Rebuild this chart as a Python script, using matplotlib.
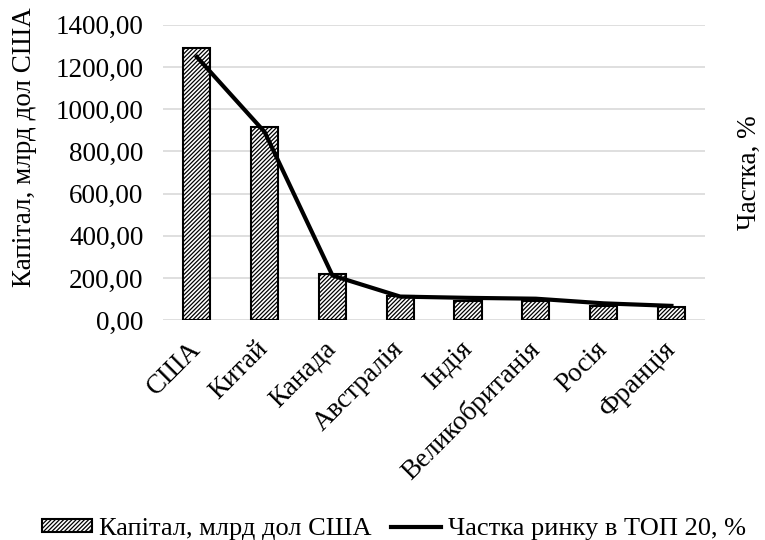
import matplotlib.pyplot as plt
import numpy as np

plt.rcParams['font.family'] = ['Liberation Serif', 'DejaVu Serif']
plt.rcParams['hatch.linewidth'] = 0.9

countries = ['США', 'Китай', 'Канада', 'Австралія', 'Індія',
             'Великобританія', 'Росія', 'Франція']
capital = [1292, 917, 219, 114, 92, 92, 68, 63]
share = [31.2, 22.3, 5.3, 2.8, 2.65, 2.55, 2.0, 1.7]

x = np.arange(len(countries))
fs = 19.5

fig = plt.figure(figsize=(7.65, 5.4), dpi=100)
ax = fig.add_axes([0.213, 0.407, 0.709, 0.547])

ax.bar(x, capital, 0.4, color='white', edgecolor='black', linewidth=1.5,
       hatch='////////', label='Капітал, млрд дол США', zorder=2)

ax.set_xlim(-0.5, len(countries) - 0.5)
ax.set_ylim(0, 1400)
ax.set_yticks(np.arange(0, 1401, 200))
ax.set_yticklabels([f'{v:.2f}'.replace('.', ',') for v in np.arange(0, 1401, 200)])
ax.yaxis.grid(True, color='#d9d9d9', linewidth=1.2, zorder=0)
ax.set_axisbelow(True)
for s in ax.spines.values():
    s.set_visible(False)
ax.tick_params(axis='both', length=0, labelsize=fs)
ax.tick_params(axis='y', pad=14)
ax.tick_params(axis='x', pad=18)
ax.set_xticks(x)
ax.set_xticklabels(countries, rotation=45, ha='right', va='center',
                   rotation_mode='anchor')
ax.set_ylabel('Капітал, млрд дол США', fontsize=fs)
ax.yaxis.set_label_coords(-0.232, 0.586)

ax2 = ax.twinx()
ax2.plot(x, share, color='black', linewidth=3, label='Частка ринку в ТОП 20, %',
         zorder=3)
ax2.set_ylim(0, 35)
ax2.set_yticks([])
for s in ax2.spines.values():
    s.set_visible(False)
ax2.set_ylabel('Частка, %', fontsize=fs, labelpad=23)

h1, l1 = ax.get_legend_handles_labels()
h2, l2 = ax2.get_legend_handles_labels()
fig.legend(h1 + h2, l1 + l2, loc='center', bbox_to_anchor=(0.515, 0.02),
           ncol=2, frameon=False, fontsize=19, handlelength=1.9,
           handleheight=0.36, handletextpad=0.27, columnspacing=0.75)

fig.savefig('out.png', dpi=100)
